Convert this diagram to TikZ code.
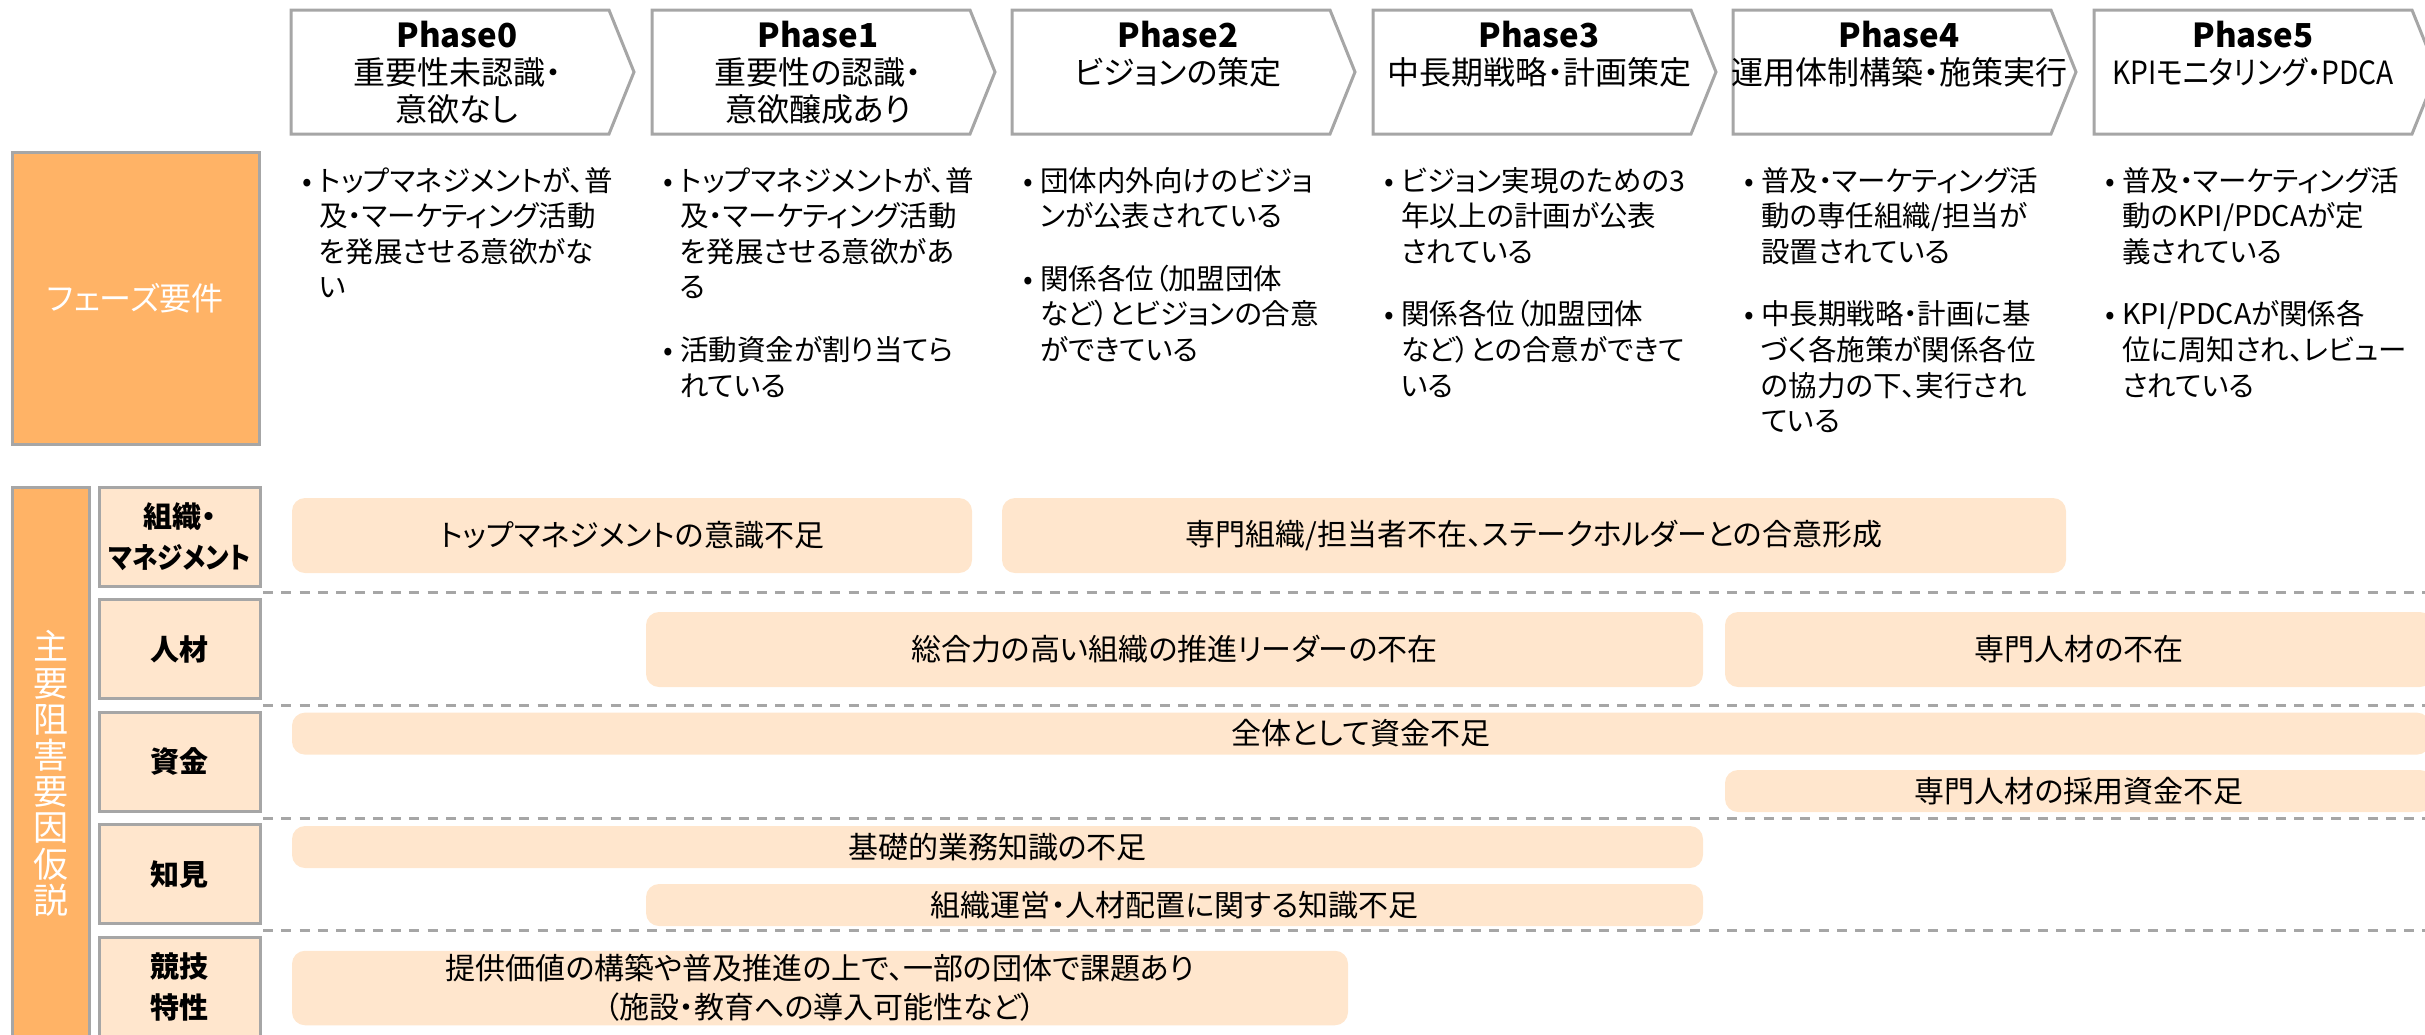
\documentclass[tikz,border=0pt]{standalone}
\usepackage{fontspec}
\setmainfont{Noto Sans CJK JP}[RawFeature={+palt}]
\newfontfamily\narrowjp{Noto Sans CJK JP}[RawFeature={+palt}, FakeStretch=0.88]
\definecolor{orng}{HTML}{FFB366}
\definecolor{peach}{HTML}{FFE6CD}
\definecolor{edge}{HTML}{A6A6A6}
\newcommand\fs[2]{\fontsize{#1}{#2}\selectfont}
\newcommand\bu{\makebox[17pt][l]{\textbullet}}
\begin{document}
\begin{tikzpicture}[x=1pt,y=-1pt,
  chev/.style={draw=edge, line width=3pt, fill=white},
  phtext/.style={anchor=north, inner sep=0pt, align=center, font=\fs{32}{37}},
  req/.style={anchor=north west, inner sep=0pt, font=\fs{28.5}{35.6}},
  barbox/.style={rectangle, rounded corners=13pt, fill=peach, inner sep=0pt, align=center, font=\fs{30}{39}},
  catbox/.style={draw=edge, line width=3pt, fill=peach, inner sep=0pt, align=center, minimum width=161pt, minimum height=99pt, font=\fs{29}{41}\bfseries},
  orbox/.style={draw=edge, line width=3pt, fill=orng, inner sep=0pt, align=center, text=white},
  sep/.style={draw=edge, line width=3pt, dash pattern=on 10pt off 8.3pt},
]
\useasboundingbox (0,0) rectangle (2425,1034);
\clip (0,0) rectangle (2425,1034);
% chevrons
\foreach \l in {291,652,1012,1373,1733,2094}{
  \draw[chev] (\l,10) -- ++(318,0) -- ++(25,62) -- ++(-25,62) -- ++(-318,0) -- cycle;
}
\node[phtext] (p0) at (457,21) {{\fs{33}{37}\bfseries Phase0}\\重要性未認識・\\意欲なし};
\node[phtext] (p1) at (818,21) {{\fs{33}{37}\bfseries Phase1}\\重要性の認識・\\意欲醸成あり};
\node[phtext] (p2) at (1178,21) {{\fs{33}{37}\bfseries Phase2}\\ビジョンの策定};
\node[phtext] (p3) at (1539,21) {{\fs{33}{37}\bfseries Phase3}\\中長期戦略・計画策定};
\node[phtext] (p4) at (1899,21) {{\fs{33}{37}\bfseries Phase4}\\運用体制構築・施策実行};
\node[phtext] (p5) at (2253,21) {{\fs{33}{37}\bfseries Phase5}\\{\narrowjp KPIモニタリング・PDCA}};
% requirement label
\node[orbox, minimum width=247pt, minimum height=292pt, font=\fs{32}{36}] (req) at (135.5,298) {フェーズ要件};
% requirement texts
\node[req] (r0) at (302,166) {\begin{tabular}{@{}l@{}l@{}}
\bu & トップマネジメントが、普\\ & 及・マーケティング活動\\ & を発展させる意欲がな\\ & い\end{tabular}};
\node[req] (r1) at (663,166) {\begin{tabular}{@{}l@{}l@{}}
\bu & トップマネジメントが、普\\ & 及・マーケティング活動\\ & を発展させる意欲があ\\ & る\\[27pt]
\bu & 活動資金が割り当てら\\ & れている\end{tabular}};
\node[req] (r2) at (1023,166) {\begin{tabular}{@{}l@{}l@{}}
\bu & 団体内外向けのビジョ\\ & ンが公表されている\\[27pt]
\bu & 関係各位（加盟団体\\ & など）とビジョンの合意\\ & ができている\end{tabular}};
\node[req] (r3) at (1384,166) {\begin{tabular}{@{}l@{}l@{}}
\bu & ビジョン実現のための3\\ & 年以上の計画が公表\\ & されている\\[27pt]
\bu & 関係各位（加盟団体\\ & など）との合意ができて\\ & いる\end{tabular}};
\node[req] (r4) at (1744,166) {\begin{tabular}{@{}l@{}l@{}}
\bu & 普及・マーケティング活\\ & 動の専任組織/担当が\\ & 設置されている\\[27pt]
\bu & 中長期戦略・計画に基\\ & づく各施策が関係各位\\ & の協力の下、実行され\\ & ている\end{tabular}};
\node[req] (r5) at (2105,166) {\begin{tabular}{@{}l@{}l@{}}
\bu & 普及・マーケティング活\\ & 動のKPI/PDCAが定\\ & 義されている\\[27pt]
\bu & KPI/PDCAが関係各\\ & 位に周知され、レビュー\\ & されている\end{tabular}};
% hypotheses
\node[orbox, minimum width=77pt, minimum height=573pt, font=\fs{35}{36.2}] (hyp) at (50.5,773.5) {主\\要\\阻\\害\\要\\因\\仮\\説};
\node[catbox] (c1) at (179.5,536.5) {組織・\\{\fs{29}{41}\narrowjp\bfseries マネジメント}};
\node[catbox] (c2) at (179.5,649) {人材};
\node[catbox] (c3) at (179.5,761.7) {資金};
\node[catbox] (c4) at (179.5,874.3) {知見};
\node[catbox] (c5) at (179.5,987) {競技\\特性};
% separators
\foreach \y in {592.8,705.4,818,930.6}{
  \draw[sep] (263,\y) -- (2430,\y);
}
% bars
\node[barbox, minimum width=680pt, minimum height=75pt] (b11) at (632,535.5) {トップマネジメントの意識不足};
\node[barbox, minimum width=1064pt, minimum height=75pt] (b12) at (1534,535.5) {専門組織/担当者不在、ステークホルダーとの合意形成};
\node[barbox, minimum width=1057pt, minimum height=75pt] (b21) at (1174.5,649.5) {総合力の高い組織の推進リーダーの不在};
\node[barbox, minimum width=708pt, minimum height=75pt] (b22) at (2079,649.5) {専門人材の不在};
\node[barbox, minimum width=2138pt, minimum height=42pt] (b31) at (1361,733.6) {全体として資金不足};
\node[barbox, minimum width=708pt, minimum height=42pt] (b32) at (2079,791) {専門人材の採用資金不足};
\node[barbox, minimum width=1411pt, minimum height=42pt] (b41) at (997.5,847) {基礎的業務知識の不足};
\node[barbox, minimum width=1057pt, minimum height=42pt] (b42) at (1174.5,905) {組織運営・人材配置に関する知識不足};
\node[barbox, minimum width=1056pt, minimum height=74.5pt] (b51) at (820,988) {提供価値の構築や普及推進の上で、一部の団体で課題あり\\（施設・教育への導入可能性など）};
\end{tikzpicture}
\end{document}
